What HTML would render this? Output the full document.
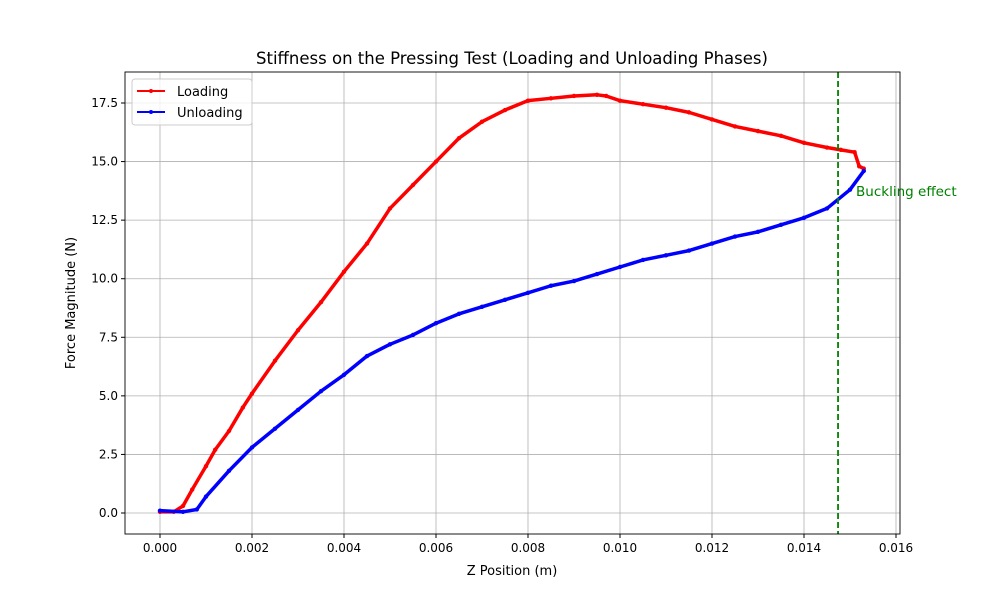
<!DOCTYPE html>
<html><head><meta charset="utf-8"><style>
body{margin:0;background:#fff;font-family:"Liberation Sans","DejaVu Sans",sans-serif;}
svg text{font-family:"DejaVu Sans","Liberation Sans",sans-serif;}
</style></head><body>
<svg id="chart" width="1000" height="600" xmlns="http://www.w3.org/2000/svg"></svg>
<script>
const loadX=[0,0.0003,0.0005,0.0007,0.001,0.0012,0.0015,0.0018,0.002,0.0025,0.003,0.0035,0.004,0.0045,0.005,0.0055,0.006,0.0065,0.007,0.0075,0.008,0.0085,0.009,0.0095,0.0097,0.01,0.0105,0.011,0.0115,0.012,0.0125,0.013,0.0135,0.014,0.0145,0.0148,0.0151,0.0152,0.0153];
const loadY=[0.05,0.05,0.3,1.0,2.0,2.7,3.5,4.5,5.1,6.5,7.8,9.0,10.3,11.5,13.0,14.0,15.0,16.0,16.7,17.2,17.6,17.7,17.8,17.85,17.8,17.6,17.45,17.3,17.1,16.8,16.5,16.3,16.1,15.8,15.6,15.5,15.4,14.8,14.7];
const unX=[0.0153,0.015,0.0145,0.014,0.0135,0.013,0.0125,0.012,0.0115,0.011,0.0105,0.01,0.0095,0.009,0.0085,0.008,0.0075,0.007,0.0065,0.006,0.0055,0.005,0.0045,0.004,0.0035,0.003,0.0025,0.002,0.0015,0.001,0.0008,0.0005,0];
const unY=[14.6,13.8,13.0,12.6,12.3,12.0,11.8,11.5,11.2,11.0,10.8,10.5,10.2,9.9,9.7,9.4,9.1,8.8,8.5,8.1,7.6,7.2,6.7,5.9,5.2,4.4,3.6,2.8,1.8,0.7,0.15,0.05,0.1];
const xTicks=[0,0.002,0.004,0.006,0.008,0.010,0.012,0.014,0.016];
const yTicks=[0,2.5,5,7.5,10,12.5,15,17.5];
const bucklingX=0.01474;
const svg=document.getElementById('chart');const NS='http://www.w3.org/2000/svg';
const L=125,R=900,T=72,B=534;
const sx=v=>160+v*46000;
const sy=v=>513-v*(410/17.5);
function el(t,a,p){const e=document.createElementNS(NS,t);for(const k in a)e.setAttribute(k,a[k]);(p||svg).appendChild(e);return e;}
const title=el('text',{x:512,y:64,'text-anchor':'middle','font-size':16.5});title.textContent='Stiffness on the Pressing Test (Loading and Unloading Phases)';


xTicks.forEach(v=>{const x=sx(v);
 const g=el('line',{x1:x,x2:x,y1:T,y2:B,stroke:'#b0b0b0','stroke-width':0.8});
 
 
 el('line',{x1:x,x2:x,y1:B,y2:B+4,stroke:'#000'});
 const t=el('text',{x:x,y:B+18,'text-anchor':'middle','font-size':12});t.textContent=v.toFixed(3);
 
 });
yTicks.forEach(v=>{const y=sy(v);
 const g=el('line',{x1:L,x2:R,y1:y,y2:y,stroke:'#b0b0b0','stroke-width':0.8});
 
 
 el('line',{x1:L-4,x2:L,y1:y,y2:y,stroke:'#000'});
 const t=el('text',{x:L-7,y:y+4,'text-anchor':'end','font-size':12});t.textContent=v.toFixed(1);
 
 });
function series(xs,ys,c,name){
 const p=el('polyline',{points:xs.map((x,i)=>sx(x)+','+sy(ys[i])).join(' '),fill:'none',stroke:c,'stroke-width':3.5,'stroke-linejoin':'round'});
 
 
 xs.forEach((x,i)=>{const m=el('circle',{cx:sx(x),cy:sy(ys[i]),r:2.2,fill:c});
 
 });
}
series(loadX,loadY,'#ff0000','loading');
series(unX,unY,'#0000ff','unloading');
const bx=sx(bucklingX);
const vl=el('line',{x1:bx,x2:bx,y1:T,y2:B,stroke:'#008000','stroke-width':1.8,'stroke-dasharray':'6,3'});


const bt=el('text',{x:bx+18,y:196,'font-size':13.5,fill:'#008000'});bt.textContent='Buckling effect';


el('rect',{x:L,y:T,width:R-L,height:B-T,fill:'none',stroke:'#000','stroke-width':0.9});
const xl=el('text',{x:512,y:575,'text-anchor':'middle','font-size':13});xl.textContent='Z Position (m)';


const yl=el('text',{x:75,y:303,'text-anchor':'middle','font-size':13,transform:'rotate(-90 75 303)'});yl.textContent='Force Magnitude (N)';


const lg=el('g',{});


el('rect',{x:132,y:79,width:120,height:46,rx:3,fill:'#fff','fill-opacity':0.8,stroke:'#ccc'},lg);
[['Loading','#ff0000',91],['Unloading','#0000ff',112]].forEach(([n,c,y])=>{
 const e=el('g',{},lg);
 
 
 el('line',{x1:137,x2:165,y1:y,y2:y,stroke:c,'stroke-width':2},e);
 el('circle',{cx:151,cy:y,r:2,fill:c},e);
 const t=el('text',{x:177,y:y+5,'font-size':13},e);t.textContent=n;});
</script>
</body></html>
